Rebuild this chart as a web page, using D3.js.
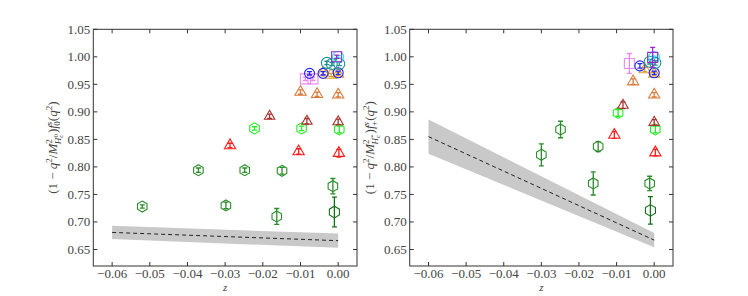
<!DOCTYPE html>
<html>
<head>
<meta charset="utf-8">
<script src="https://cdn.jsdelivr.net/npm/d3@7"></script>
<style>
  body { margin: 0; background: #fff; }
  svg { display: block; }
  .tick-label { font-family: "Liberation Serif", "DejaVu Serif", serif; font-size: 13px; fill: #444; }
  .axis-label { font-family: "Liberation Serif", "DejaVu Serif", serif; fill: #444; }
</style>
</head>
<body>
<svg id="chart" width="748" height="296"></svg>
<script>
// ---- data: z positions, form factor values and errors, one array per lattice set ----
// left panel: (1 - q^2/M^2) f0
var greenZ0 = [-0.052, -0.0371, -0.0298, -0.0248, -0.0149, -0.0163, -0.0014];
var greenV0 = [0.728, 0.794, 0.730, 0.794, 0.793, 0.710, 0.765];
var greenE0 = [0.003, 0.004, 0.006, 0.004, 0.006, 0.0145, 0.014];
var dkgreenZ0 = [-0.001];
var dkgreenV0 = [0.718];
var dkgreenE0 = [0.027];
var limeZ0 = [-0.0222, -0.0097, 0.0003];
var limeV0 = [0.870, 0.870, 0.868];
var limeE0 = [0.003, 0.004, 0.006];
var redZ0 = [-0.0287, -0.0105, 0.0002];
var redV0 = [0.839, 0.828, 0.825];
var redE0 = [0.004, 0.005, 0.007];
var brownZ0 = [-0.0182, -0.0083, 0.0];
var brownV0 = [0.892, 0.883, 0.882];
var brownE0 = [0.004, 0.005, 0.005];
var orangeZ0 = [-0.0100, -0.0056, 0.0];
var orangeV0 = [0.936, 0.932, 0.931];
var orangeE0 = [0.004, 0.004, 0.004];
var goldZ0 = [-0.0040, -0.0019, 0.0];
var goldV0 = [0.971, 0.967, 0.969];
var goldE0 = [0.003, 0.003, 0.003];
var blueZ0 = [-0.0076, -0.0040, 0.0];
var blueV0 = [0.970, 0.970, 0.971];
var blueE0 = [0.003, 0.003, 0.003];
var tealZ0 = [-0.0030, -0.0017, 0.0003];
var tealV0 = [0.989, 0.987, 0.987];
var tealE0 = [0.003, 0.003, 0.003];
var violetZ0 = [-0.0087, -0.0067];
var violetV0 = [0.960, 0.960];
var violetE0 = [0.003, 0.003];
var purpleZ0 = [-0.0004];
var purpleV0 = [1.000];
var purpleE0 = [0.003];
var cyanZ0 = [0.0];
var cyanV0 = [1.000];
var cyanE0 = [0.002];

// right panel: (1 - q^2/M^2) f+
var greenZp = [-0.0300, -0.0249, -0.0149, -0.0162, -0.0012];
var greenVp = [0.822, 0.868, 0.837, 0.770, 0.770];
var greenEp = [0.020, 0.015, 0.009, 0.021, 0.013];
var dkgreenZp = [-0.001];
var dkgreenVp = [0.721];
var dkgreenEp = [0.025];
var limeZp = [-0.0096, 0.0003];
var limeVp = [0.898, 0.868];
var limeEp = [0.006, 0.006];
var redZp = [-0.0106, 0.0003];
var redVp = [0.858, 0.826];
var redEp = [0.006, 0.006];
var brownZp = [-0.0083, 0.0];
var brownVp = [0.912, 0.881];
var brownEp = [0.006, 0.005];
var orangeZp = [-0.0056, 0.0];
var orangeVp = [0.955, 0.931];
var orangeEp = [0.005, 0.004];
var goldZp = [-0.0025, 0.0];
var goldVp = [0.977, 0.969];
var goldEp = [0.004, 0.003];
var blueZp = [-0.0038, 0.0];
var blueVp = [0.9835, 0.971];
var blueEp = [0.004, 0.003];
var tealZp = [-0.0012, 0.0003];
var tealVp = [0.991, 0.989];
var tealEp = [0.004, 0.004];
var violetZp = [-0.0066];
var violetVp = [0.988];
var violetEp = [0.018];
var purpleZp = [-0.0004];
var purpleVp = [0.999];
var purpleEp = [0.018];
var cyanZp = [0.0];
var cyanVp = [0.999];
var cyanEp = [0.002];

// continuum fit bands (z, central, lower, upper)
var bandZ = [-0.06, 0.0];
var band0Mid = [0.681, 0.666];
var band0Lo = [0.669, 0.653];
var band0Hi = [0.693, 0.679];
var bandpMid = [0.855, 0.667];
var bandpLo = [0.824, 0.654];
var bandpHi = [0.886, 0.680];

var xTicks = [-0.06, -0.05, -0.04, -0.03, -0.02, -0.01, 0.0];
var yTicks = [0.65, 0.70, 0.75, 0.80, 0.85, 0.90, 0.95, 1.00, 1.05];

// ---- styles ----
var styles = {
    green:   { color: "#2a8c2a", shape: "hexagon", size: 5.5 },
    dkgreen: { color: "#13701a", shape: "hexagon", size: 5.8 },
    lime:    { color: "#22ee22", shape: "hexagon", size: 5.5 },
    red:     { color: "#ff1a1a", shape: "triangle", size: 6.5 },
    brown:   { color: "#a8322f", shape: "triangle", size: 6 },
    orange:  { color: "#d97a3a", shape: "triangle", size: 6.5 },
    gold:    { color: "#dba32e", shape: "triangle", size: 6.5 },
    blue:    { color: "#2323ff", shape: "circle", size: 5 },
    teal:    { color: "#1e9393", shape: "circle", size: 5.5 },
    violet:  { color: "#ee88ee", shape: "square", size: 5 },
    purple:  { color: "#9b26c9", shape: "square", size: 5 },
    cyan:    { color: "#22f0f0", shape: "circle", size: 5.5 }
};

function makeSeries(suffix)
{
    var names = ["green", "lime", "red", "brown", "orange", "gold", "violet", "blue", "teal", "cyan", "purple", "dkgreen"];
    var pts = [];
    names.forEach(function (n) {
        var zs = window[n + "Z" + suffix], vs = window[n + "V" + suffix], es = window[n + "E" + suffix];
        for (var i = 0; i < zs.length; i++)
            pts.push({ key: n, z: zs[i], v: vs[i], e: es[i] });
    });
    return pts;
}

function shapePath(shape, r)
{
    if (shape === "circle") {
        var p = d3.path(); p.arc(0, 0, r, 0, 2 * Math.PI); p.closePath(); return p.toString();
    }
    var n, rot;
    if (shape === "hexagon") { n = 6; rot = -Math.PI / 2; }
    else if (shape === "triangle") { n = 3; rot = -Math.PI / 2; }
    else { n = 4; rot = Math.PI / 4; r = r * Math.SQRT2; }
    var pts = d3.range(n).map(function (i) {
        var a = rot + i * 2 * Math.PI / n;
        return [r * Math.cos(a), r * Math.sin(a)];
    });
    return "M" + pts.map(function (p) { return p[0].toFixed(2) + "," + p[1].toFixed(2); }).join("L") + "Z";
}

var svg = d3.select("#chart");
var fmtX = function (d) { return d3.format(".2f")(d).replace("-", "\u2212"); };
var fmtY = d3.format(".2f");

function drawPanel(box, pts, bMid, bLo, bHi, labelParts)
{
    var x = d3.scaleLinear().domain([-0.065, 0.005]).range([box.left, box.left + box.w]);
    var y = d3.scaleLinear().domain([0.62, 1.05]).range([box.top + box.h, box.top]);
    var g = svg.append("g");

    // band
    var bandData = bandZ.map(function (z, i) { return { z: z, lo: bLo[i], hi: bHi[i], mid: bMid[i] }; });
    g.append("path")
        .datum(bandData)
        .attr("d", d3.area().x(function (d) { return x(d.z); }).y0(function (d) { return y(d.lo); }).y1(function (d) { return y(d.hi); }))
        .style("fill", "#c9c9c9");
    g.append("path")
        .datum(bandData)
        .attr("d", d3.line().x(function (d) { return x(d.z); }).y(function (d) { return y(d.mid); }))
        .style("fill", "none")
        .style("stroke", "#222")
        .style("stroke-width", 1)
        .style("stroke-dasharray", "4,3");

    // points with error bars
    var pg = g.append("g").selectAll("g").data(pts).enter().append("g")
        .attr("transform", function (d) { return "translate(" + x(d.z) + "," + y(d.v) + ")"; });
    pg.append("path")
        .attr("d", function (d) {
            var h = y(d.v - d.e) - y(d.v), c = 2.5;
            return "M0," + (-h) + "V" + h + "M" + (-c) + "," + (-h) + "H" + c + "M" + (-c) + "," + h + "H" + c;
        })
        .style("fill", "none")
        .style("stroke", function (d) { return styles[d.key].color; })
        .style("stroke-width", 1.3);
    pg.append("path")
        .attr("d", function (d) { return shapePath(styles[d.key].shape, styles[d.key].size); })
        .style("fill", "none")
        .style("stroke", function (d) { return styles[d.key].color; })
        .style("stroke-width", 1.1);

    // frame
    var frame = svg.append("g");
    frame.append("rect")
        .attr("x", box.left).attr("y", box.top).attr("width", box.w).attr("height", box.h)
        .style("fill", "none").style("stroke", "#333").style("stroke-width", 1);

    var tl = 4;
    xTicks.forEach(function (t) {
        frame.append("line").attr("x1", x(t)).attr("x2", x(t)).attr("y1", box.top + box.h).attr("y2", box.top + box.h - tl).style("stroke", "#333");
        frame.append("line").attr("x1", x(t)).attr("x2", x(t)).attr("y1", box.top).attr("y2", box.top + tl).style("stroke", "#333");
        frame.append("text").attr("class", "tick-label")
            .attr("x", x(t)).attr("y", box.top + box.h + 12).attr("text-anchor", "middle").text(fmtX(t));
    });
    yTicks.forEach(function (t) {
        frame.append("line").attr("x1", box.left).attr("x2", box.left + tl).attr("y1", y(t)).attr("y2", y(t)).style("stroke", "#333");
        frame.append("line").attr("x1", box.left + box.w).attr("x2", box.left + box.w - tl).attr("y1", y(t)).attr("y2", y(t)).style("stroke", "#333");
        frame.append("text").attr("class", "tick-label")
            .attr("x", box.left - 3).attr("y", y(t) + 4.5).attr("text-anchor", "end").text(fmtY(t));
    });

    // x label
    svg.append("text").attr("class", "axis-label")
        .attr("x", box.left + box.w * 0.5).attr("y", box.top + box.h + 25)
        .attr("text-anchor", "middle").style("font-size", "11px").style("font-style", "italic").text("z");

    // y label: each part carries its baseline level, dy is the change from the previous part
    var yl = svg.append("text").attr("class", "axis-label")
        .attr("transform", "translate(" + (box.left - 36) + "," + (box.top + box.h / 2) + ") rotate(-90)")
        .attr("text-anchor", "middle").style("font-size", "13px");
    var level = 0;
    labelParts.forEach(function (p) {
        var lv = p.lv || 0;
        var ts = yl.append("tspan").text(p.t);
        if (p.i) ts.style("font-style", "italic");
        if (p.s) ts.style("font-size", p.s + "px");
        if (lv !== level) ts.attr("dy", lv - level);
        if (p.dx) ts.attr("dx", p.dx);
        level = lv;
    });
}

function label(mSup, fSub)
{
    return [
        { t: "(1 \u2212 " }, { t: "q", i: true }, { t: "2", s: 9, lv: -5 },
        { t: "/" }, { t: "M", i: true }, { t: "2", s: 9, lv: -5 },
        { t: "H", i: true, s: 9, lv: 4, dx: -5 }, { t: "c", i: true, s: 7, lv: 6 }, { t: mSup, s: 7, lv: 1, dx: -3 },
        { t: ")", dx: 1 }, { t: "f", i: true }, { t: "s", i: true, s: 9, lv: -5 },
        { t: fSub, s: 9, lv: 3, dx: -4 }, { t: "(" }, { t: "q", i: true }, { t: "2", s: 9, lv: -5 },
        { t: ")" }
    ];
}

drawPanel({ left: 93.3, top: 29.3, w: 263.7, h: 236.7 }, makeSeries("0"),
    band0Mid, band0Lo, band0Hi, label("0", "0"));
drawPanel({ left: 409.7, top: 29.3, w: 263.3, h: 236.7 }, makeSeries("p"),
    bandpMid, bandpLo, bandpHi, label("*", "+"));
</script>
</body>
</html>
